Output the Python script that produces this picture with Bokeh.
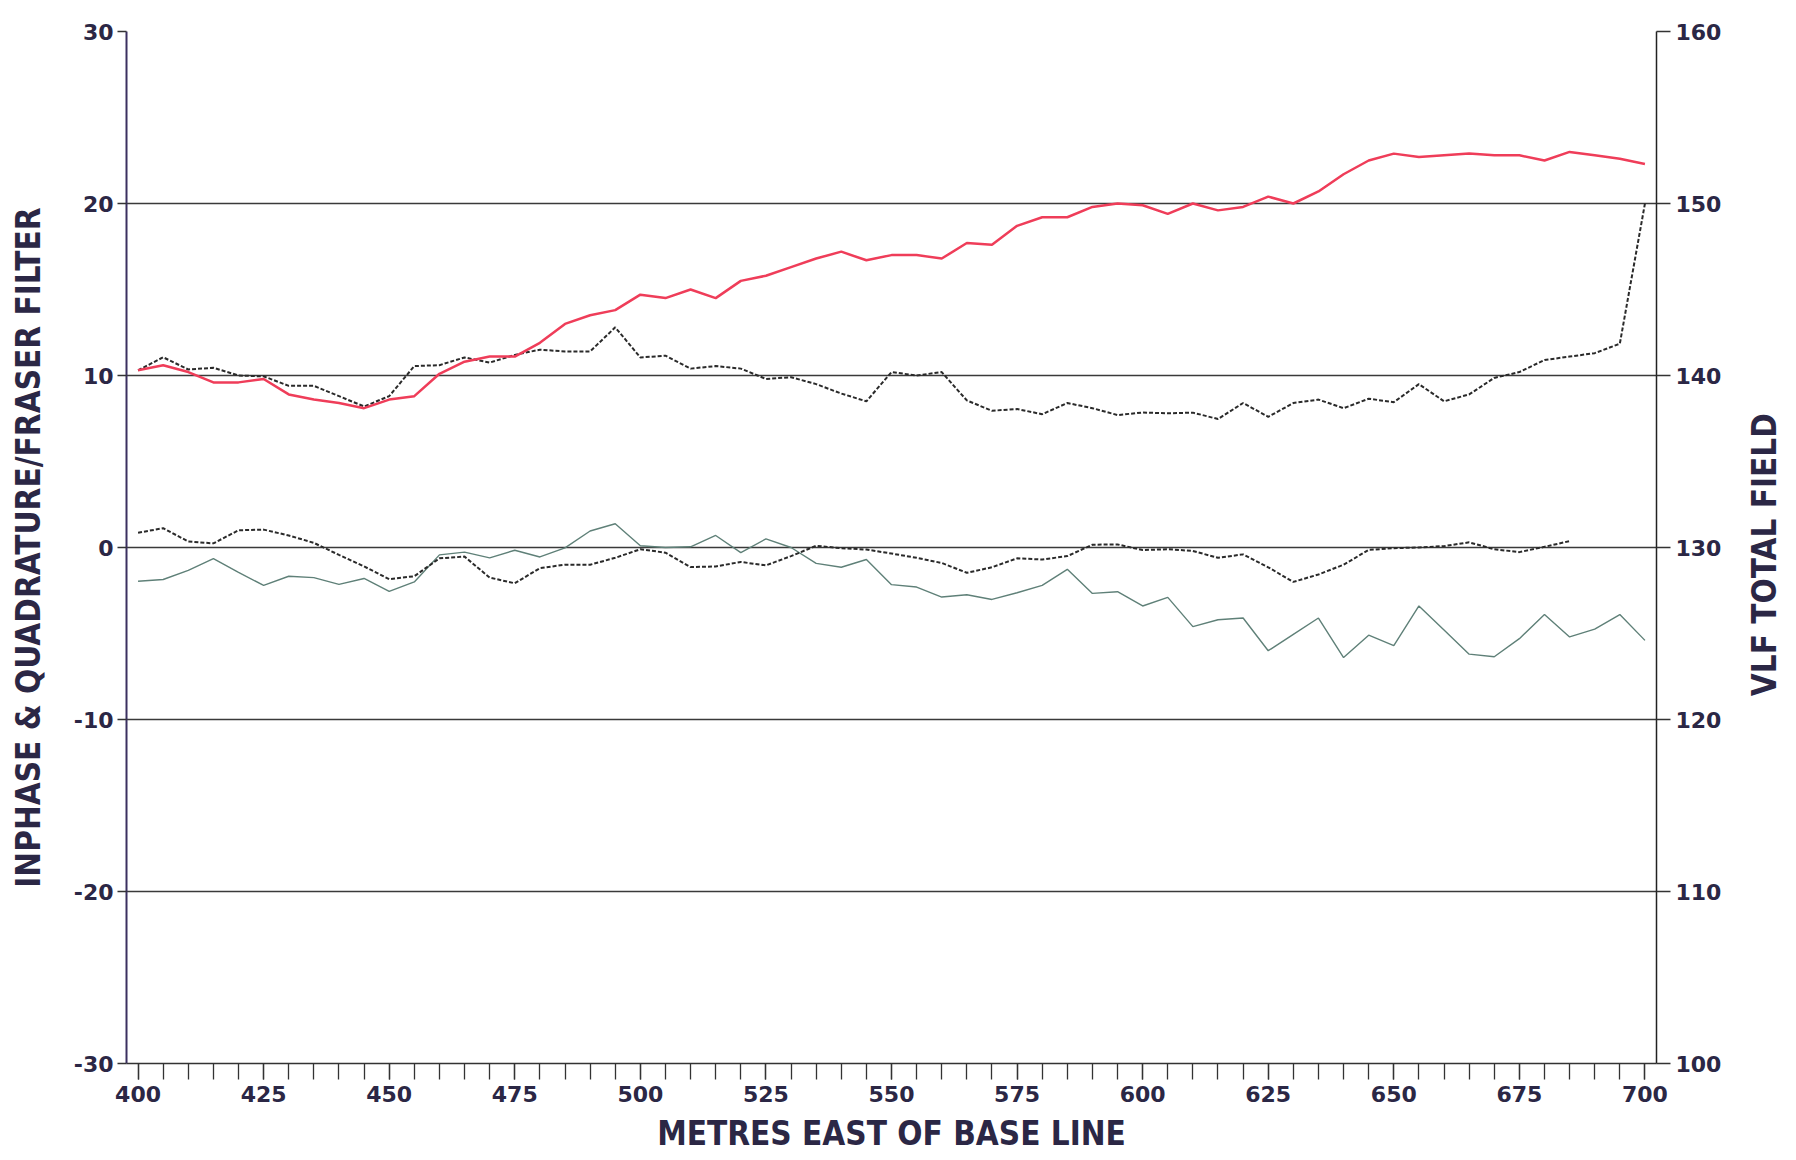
import math
from bokeh.plotting import figure
from bokeh.models import Range1d, LinearAxis, FixedTicker
from bokeh.layouts import row
from bokeh.core.properties import value
from bokeh.embed import file_html
from bokeh.resources import INLINE

# ---- data (metres east of base line) ----
distance = [400, 405, 410, 415, 420, 425, 430, 435, 440, 445, 450, 455, 460, 465, 470,
            475, 480, 485, 490, 495, 500, 505, 510, 515, 520, 525, 530, 535, 540, 545,
            550, 555, 560, 565, 570, 575, 580, 585, 590, 595, 600, 605, 610, 615, 620,
            625, 630, 635, 640, 645, 650, 655, 660, 665, 670, 675, 680, 685, 690, 695, 700]

# VLF total field (right axis)
vlf_total_field = [140.3, 140.6, 140.2, 139.6, 139.6, 139.8, 138.9, 138.6, 138.4, 138.1,
                   138.6, 138.8, 140.1, 140.8, 141.1, 141.1, 141.9, 143.0, 143.5, 143.8,
                   144.7, 144.5, 145.0, 144.5, 145.5, 145.8, 146.3, 146.8, 147.2, 146.7,
                   147.0, 147.0, 146.8, 147.7, 147.6, 148.7, 149.2, 149.2, 149.8, 150.0,
                   149.9, 149.4, 150.0, 149.6, 149.8, 150.4, 150.0, 150.7, 151.7, 152.5,
                   152.9, 152.7, 152.8, 152.9, 152.8, 152.8, 152.5, 153.0, 152.8, 152.6, 152.3]

# upper dashed series (left axis)
inphase = [10.3, 11.06, 10.35, 10.45, 10.0, 9.95, 9.4, 9.4, 8.8, 8.2,
           8.8, 10.55, 10.6, 11.05, 10.75, 11.2, 11.5, 11.4, 11.4, 12.8,
           11.05, 11.15, 10.4, 10.55, 10.4, 9.8, 9.9, 9.5, 8.95, 8.5,
           10.2, 10.0, 10.2, 8.55, 7.95, 8.05, 7.75, 8.4, 8.1, 7.7,
           7.85, 7.8, 7.84, 7.47, 8.4, 7.6, 8.4, 8.6, 8.1, 8.65,
           8.45, 9.5, 8.5, 8.9, 9.86, 10.2, 10.9, 11.1, 11.3, 11.85, 20.0]

# lower dashed series (left axis), stops at 685 m
fraser_filter = [0.86, 1.12, 0.35, 0.24, 1.0, 1.04, 0.7, 0.27, -0.43, -1.1,
                 -1.84, -1.67, -0.63, -0.53, -1.75, -2.08, -1.2, -1.0, -1.0, -0.6,
                 -0.1, -0.3, -1.14, -1.1, -0.84, -1.04, -0.5, 0.1, -0.04, -0.12,
                 -0.35, -0.6, -0.9, -1.47, -1.15, -0.63, -0.7, -0.5, 0.16, 0.18,
                 -0.15, -0.1, -0.2, -0.6, -0.4, -1.15, -2.0, -1.57, -1.0, -0.14,
                 -0.04, 0.0, 0.08, 0.3, -0.1, -0.27, 0.04, 0.37]

# thin grey-green series (left axis)
quadrature = [-1.96, -1.86, -1.33, -0.65, -1.45, -2.2, -1.67, -1.75, -2.14, -1.8,
              -2.55, -2.0, -0.43, -0.27, -0.6, -0.16, -0.55, -0.02, 0.96, 1.38,
              0.1, 0.0, 0.04, 0.7, -0.3, 0.5, 0.0, -0.92, -1.15, -0.7,
              -2.16, -2.3, -2.88, -2.75, -3.02, -2.63, -2.2, -1.27, -2.67, -2.57,
              -3.4, -2.9, -4.6, -4.2, -4.1, -6.0, -5.05, -4.1, -6.4, -5.1,
              -5.7, -3.4, -4.8, -6.2, -6.35, -5.3, -3.9, -5.2, -4.75, -3.9, -5.4]

x_ticks = [400, 425, 450, 475, 500, 525, 550, 575, 600, 625, 650, 675, 700]
left_ticks = [-30, -20, -10, 0, 10, 20, 30]
left_tick_labels = ["-30", "-20", "-10", "0", "10", "20", "30"]
right_ticks = [100, 110, 120, 130, 140, 150, 160]

TXT = "#2b2745"
TICK_FONT = "DejaVu Sans"
TITLE_FONT = "Liberation Sans Narrow, DejaVu Sans Condensed, Roboto Condensed, sans-serif"
TITLE_SIZE = "33px"

p = figure(width=1726, height=1160, output_backend="svg", toolbar_location=None,
           x_range=Range1d(397.7, 702.3), y_range=Range1d(-30, 30),
           min_border_left=126, min_border_right=70, min_border_top=31, min_border_bottom=97)
p.outline_line_color = None
p.background_fill_color = "white"
p.border_fill_color = "white"

p.extra_y_ranges = {"vlf": Range1d(100, 160)}

# grid
p.xgrid.visible = False
p.ygrid.ticker = FixedTicker(ticks=left_ticks)
p.ygrid.grid_line_color = "#3a3a3a"
p.ygrid.grid_line_width = 1.4

# x axis
xa = p.xaxis[0]
xa.ticker = FixedTicker(ticks=x_ticks, minor_ticks=distance)
xa.major_tick_out = 16
xa.major_tick_in = 0
xa.minor_tick_out = 16
xa.minor_tick_in = 0
xa.major_tick_line_color = "#333333"
xa.minor_tick_line_color = "#333333"
xa.major_tick_line_width = 1.3
xa.minor_tick_line_width = 1.3
xa.axis_line_color = "#333333"
xa.axis_line_width = 1.5
xa.major_label_text_font = TICK_FONT
xa.major_label_text_font_style = "bold"
xa.major_label_text_font_size = "22px"
xa.major_label_text_color = TXT
xa.major_label_standoff = 6
xa.axis_label = "METRES EAST OF BASE LINE"
xa.axis_label_text_font = TITLE_FONT
xa.axis_label_text_font_style = "bold"
xa.axis_label_text_font_size = TITLE_SIZE
xa.axis_label_text_color = TXT
xa.axis_label_standoff = 9

# left axis
ya = p.yaxis[0]
ya.ticker = FixedTicker(ticks=left_ticks)
ya.major_label_overrides = dict(zip(left_ticks, left_tick_labels))
ya.minor_tick_line_color = None
ya.major_tick_out = 9
ya.major_tick_in = 0
ya.major_tick_line_color = "#333333"
ya.major_tick_line_width = 1.3
ya.axis_line_color = "#3b3060"
ya.axis_line_width = 2
ya.major_label_text_font = TICK_FONT
ya.major_label_text_font_style = "bold"
ya.major_label_text_font_size = "22px"
ya.major_label_text_color = TXT
ya.major_label_standoff = 4
ya.axis_label = "INPHASE & QUADRATURE/FRASER FILTER"
ya.axis_label_text_font = TITLE_FONT
ya.axis_label_text_font_style = "bold"
ya.axis_label_text_font_size = TITLE_SIZE
ya.axis_label_text_color = TXT
ya.axis_label_standoff = 23

# right axis
ra = LinearAxis(y_range_name="vlf", ticker=FixedTicker(ticks=right_ticks))
ra.minor_tick_line_color = None
ra.major_tick_out = 14
ra.major_tick_in = 0
ra.major_tick_line_color = "#333333"
ra.major_tick_line_width = 1.3
ra.axis_line_color = "#222222"
ra.axis_line_width = 1.5
ra.major_label_text_font = TICK_FONT
ra.major_label_text_font_style = "bold"
ra.major_label_text_font_size = "22px"
ra.major_label_text_color = TXT
ra.major_label_standoff = 5
p.add_layout(ra, "right")

# series
p.line(distance, quadrature, line_color="#5f8078", line_width=1.4)
p.line(distance[:len(fraser_filter)], fraser_filter, line_color="#2a2a2a",
       line_width=2, line_dash="4 2")
p.line(distance, inphase, line_color="#2a2a2a", line_width=2, line_dash="4 2")
p.line(distance, vlf_total_field, y_range_name="vlf", line_color="#ef3d59", line_width=2.5)

# narrow strip on the right holding the right-hand axis title (reads bottom to top)
t = figure(width=70, height=1160, output_backend="svg", toolbar_location=None,
           x_range=Range1d(0, 70), y_range=Range1d(0, 1160),
           x_axis_location=None, y_axis_location=None, min_border=0)
t.outline_line_color = None
t.grid.visible = False
t.background_fill_color = "white"
t.border_fill_color = "white"
t.text(x=[38], y=[572], text=["VLF TOTAL FIELD"], angle=math.pi / 2,
       text_align="center", text_baseline="middle",
       text_font=value(TITLE_FONT), text_font_style="bold",
       text_font_size="33px", text_color=TXT)

layout = row(p, t, spacing=0)
open("out.html", "w").write(file_html(layout, INLINE))
